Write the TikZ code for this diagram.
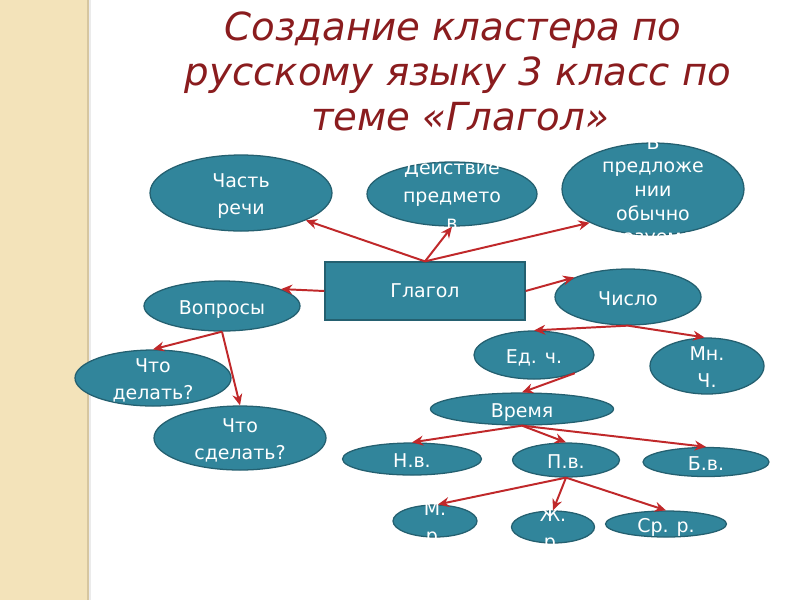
\documentclass[tikz,border=0pt]{standalone}
\usepackage{fontspec}
\setmainfont{DejaVu Sans}
\usetikzlibrary{shapes.geometric,arrows.meta}

\definecolor{bubblefill}{RGB}{49,133,155}
\definecolor{bubbleline}{RGB}{36,96,112}
\definecolor{linkred}{RGB}{192,40,42}
\definecolor{titlered}{RGB}{138,28,30}
\definecolor{sand}{RGB}{243,227,186}
\definecolor{sandedge}{RGB}{214,198,160}

\newcommand{\inbubble}[1]{\smash{\makebox[0pt]{\raisebox{-.41em}{\begin{tabular}{@{}c@{}}#1\end{tabular}}}}}

\begin{document}
\begin{tikzpicture}[x=0.025cm,y=-0.025cm,
  sz/.style 2 args={minimum width=#1*0.025cm,minimum height=#2*0.025cm},
  bubble/.style={ellipse,draw=bubbleline,fill=bubblefill,line width=0.9pt,inner sep=0pt,text=white,font=\fontsize{13.5}{19.5}\selectfont},
  verb/.style={rectangle,draw=bubbleline,fill=bubblefill,line width=0.9pt,inner sep=0pt,text=white,font=\fontsize{13.5}{19.5}\selectfont},
  link/.style={draw=linkred,line width=1.4pt,-{Stealth[length=8pt,width=7pt]}},
  headline/.style={anchor=base,text=titlered,font=\fontsize{27.5}{32}\selectfont\itshape}]
\useasboundingbox (0,0) rectangle (800,600);
\fill[white] (0,0) rectangle (800,600);
% left strip
\fill[sand] (0,0) rectangle (88,600);
\draw[sandedge,line width=1pt] (88,0) -- (88,600);
\fill[black,opacity=0.08] (88.5,0) rectangle (91,600);

% title
\node[headline] (title1) at (453,40) {Создание кластера по};
\node[headline] (title2) at (458,85) {русскому языку 3 класс по};
\node[headline] (title3) at (460,130) {теме «Глагол»};

% cluster
\node[bubble,sz={182}{76}] (chast) at (241,193) {\inbubble{Часть\\речи}};
\node[bubble,sz={170}{64}] (deistvie) at (452,194) {\inbubble{Действие\\предмето\\в}};
\node[bubble,sz={182}{92},font=\fontsize{13.5}{16.8}\selectfont] (predl) at (653,189) {\inbubble{В\\предложе\\нии\\обычно\\сказуемое}};
\node[verb,sz={200}{58}] (glagol) at (425,291) {Глагол};
\node[bubble,sz={156}{50}] (voprosy) at (222,306) {\inbubble{Вопросы}};
\node[bubble,sz={146}{56}] (chislo) at (628,297) {\inbubble{Число}};
\node[bubble,sz={156}{56}] (delat) at (153,378) {\inbubble{Что\\делать?}};
\node[bubble,sz={172}{64}] (sdelat) at (240,438) {\inbubble{Что\\сделать?}};
\node[bubble,sz={120}{48}] (ed) at (534,355) {\inbubble{Ед. ч.}};
\node[bubble,sz={114}{56}] (mn) at (707,366) {\inbubble{Мн.\\Ч.}};
\node[bubble,sz={183}{32}] (vremya) at (522,409) {\inbubble{Время}};
\node[bubble,sz={139}{32}] (nv) at (412,459) {\inbubble{Н.в.}};
\node[bubble,sz={107}{34}] (pv) at (566,460) {\inbubble{П.в.}};
\node[bubble,sz={126}{29}] (bv) at (706,462) {\inbubble{Б.в.}};
\node[bubble,sz={84}{32}] (mr) at (435,521) {\inbubble{М.\\р.}};
\node[bubble,sz={83}{32}] (zhr) at (553,527) {\inbubble{Ж.\\р.}};
\node[bubble,sz={121}{26}] (srr) at (666,524) {\inbubble{Ср. р.}};

% arrows
\draw[link] (glagol.north) -- (chast.south east);
\draw[link] (glagol.north) -- (deistvie.south);
\draw[link] (glagol.north) -- (predl.208);
\draw[link] (glagol.west) -- (voprosy.16);
\draw[link] (glagol.east) -- (chislo.160);
\draw[link] (chislo.south) -- (ed.north);
\draw[link] (chislo.south) -- (mn.95);
\draw[link] (ed.-24) -- (vremya.north);
\draw[link] (voprosy.south) -- (delat.north);
\draw[link] (voprosy.south) -- (sdelat.north);
\draw[link] (vremya.south) -- (nv.north);
\draw[link] (vremya.south) -- (pv.north);
\draw[link] (vremya.south) -- (bv.north);
\draw[link] (pv.south) -- (mr.80);
\draw[link] (pv.south) -- (zhr.north);
\draw[link] (pv.south) -- (srr.north);
\end{tikzpicture}
\end{document}
